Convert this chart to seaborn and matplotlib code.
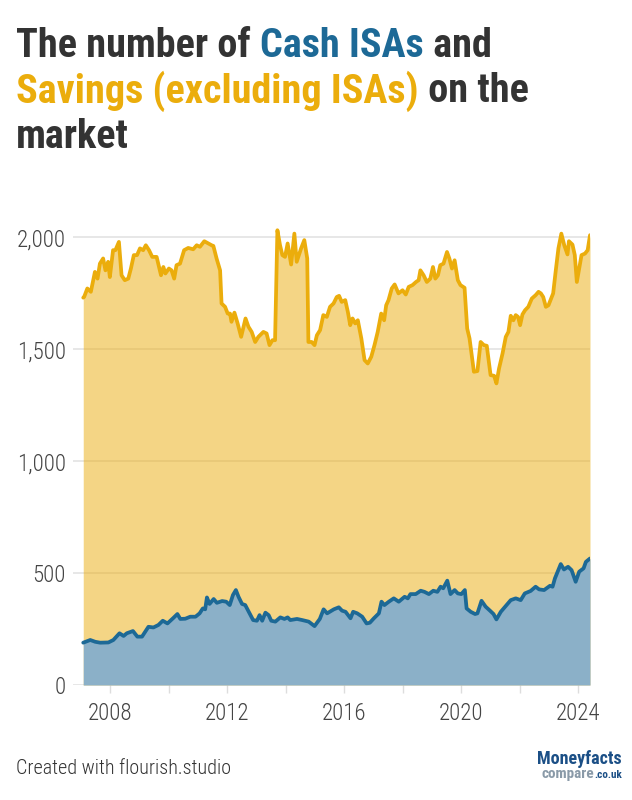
import matplotlib
matplotlib.use("Agg")
import matplotlib.pyplot as plt
from matplotlib.ticker import FuncFormatter, FixedLocator
import seaborn as sns
import pandas as pd

sns.set_theme(style="white")
plt.rcParams["font.family"] = ["Roboto Condensed", "Roboto", "DejaVu Sans"]

# Savings (excluding ISAs), decimal years
sav_year = [2007.08, 2007.11, 2007.22, 2007.34, 2007.48, 2007.57, 2007.65, 2007.76, 2007.84, 2007.93,
            2007.99, 2008.10, 2008.18, 2008.30, 2008.39, 2008.50, 2008.62, 2008.71, 2008.81, 2008.92,
            2009.02, 2009.13, 2009.22, 2009.33, 2009.44, 2009.59, 2009.74, 2009.82, 2009.89, 2010.01,
            2010.10, 2010.19, 2010.27, 2010.39, 2010.53, 2010.67, 2010.84, 2010.96, 2011.07, 2011.22,
            2011.36, 2011.47, 2011.53, 2011.64, 2011.76, 2011.81, 2011.93, 2012.02, 2012.10, 2012.15,
            2012.25, 2012.36, 2012.48, 2012.63, 2012.73, 2012.84, 2012.96, 2013.07, 2013.24, 2013.35,
            2013.45, 2013.55, 2013.64, 2013.72, 2013.81, 2013.89, 2013.98, 2014.07, 2014.19, 2014.30,
            2014.38, 2014.53, 2014.64, 2014.74, 2014.78, 2014.89, 2014.99, 2015.07, 2015.18, 2015.29,
            2015.41, 2015.52, 2015.64, 2015.75, 2015.83, 2015.92, 2016.04, 2016.13, 2016.21, 2016.29,
            2016.38, 2016.47, 2016.59, 2016.70, 2016.81, 2016.93, 2017.04, 2017.15, 2017.27, 2017.37,
            2017.44, 2017.52, 2017.63, 2017.73, 2017.86, 2018.00, 2018.11, 2018.21, 2018.34, 2018.46,
            2018.55, 2018.61, 2018.72, 2018.83, 2018.95, 2019.04, 2019.12, 2019.21, 2019.29, 2019.40,
            2019.52, 2019.60, 2019.69, 2019.78, 2019.89, 2019.98, 2020.12, 2020.21, 2020.29, 2020.44,
            2020.56, 2020.67, 2020.78, 2020.88, 2021.01, 2021.13, 2021.21, 2021.30, 2021.42, 2021.53,
            2021.62, 2021.70, 2021.79, 2021.87, 2021.95, 2022.02, 2022.10, 2022.19, 2022.30, 2022.42,
            2022.55, 2022.65, 2022.73, 2022.81, 2022.90, 2022.99, 2023.10, 2023.15, 2023.24, 2023.33,
            2023.43, 2023.53, 2023.64, 2023.69, 2023.81, 2023.89, 2023.96, 2024.04, 2024.12, 2024.24,
            2024.33, 2024.41]
sav_vals = [1730, 1733, 1771, 1756, 1845, 1815, 1882, 1905, 1852, 1890,
            1822, 1942, 1942, 1979, 1830, 1808, 1815, 1860, 1920, 1920,
            1950, 1942, 1964, 1942, 1912, 1912, 1830, 1867, 1838, 1860,
            1852, 1815, 1875, 1882, 1942, 1952, 1946, 1964, 1957, 1982,
            1972, 1964, 1961, 1905, 1852, 1704, 1689, 1659, 1659, 1622,
            1663, 1615, 1555, 1637, 1600, 1577, 1532, 1555, 1577, 1570,
            1518, 1540, 1540, 2031, 1964, 1920, 1912, 1972, 1878, 2016,
            1890, 1950, 1987, 1905, 1532, 1532, 1518, 1562, 1585, 1652,
            1644, 1689, 1704, 1733, 1738, 1711, 1719, 1666, 1607, 1637,
            1615, 1629, 1548, 1451, 1436, 1466, 1518, 1577, 1659, 1629,
            1696, 1719, 1771, 1789, 1749, 1763, 1744, 1778, 1786, 1800,
            1808, 1852, 1830, 1800, 1815, 1867, 1815, 1830, 1875, 1882,
            1934, 1905, 1860, 1897, 1808, 1786, 1774, 1592, 1548, 1399,
            1402, 1532, 1518, 1515, 1384, 1381, 1347, 1414, 1481, 1555,
            1577, 1649, 1629, 1652, 1644, 1607, 1655, 1674, 1689, 1726,
            1741, 1756, 1749, 1733, 1689, 1696, 1733, 1749, 1852, 1950,
            2016, 1964, 1923, 1982, 1967, 1920, 1800, 1860, 1920, 1927,
            1942, 2009]

# Cash ISAs
isa_year = [2007.08, 2007.32, 2007.49, 2007.66, 2007.94, 2008.11, 2008.32, 2008.46, 2008.57, 2008.78,
            2008.93, 2009.09, 2009.31, 2009.48, 2009.65, 2009.80, 2009.96, 2010.15, 2010.30, 2010.40,
            2010.57, 2010.74, 2010.92, 2011.06, 2011.17, 2011.25, 2011.31, 2011.40, 2011.54, 2011.65,
            2011.83, 2011.97, 2012.09, 2012.20, 2012.30, 2012.39, 2012.51, 2012.62, 2012.74, 2012.89,
            2013.02, 2013.11, 2013.20, 2013.31, 2013.42, 2013.51, 2013.65, 2013.82, 2013.96, 2014.07,
            2014.16, 2014.39, 2014.57, 2014.79, 2014.99, 2015.17, 2015.30, 2015.42, 2015.65, 2015.82,
            2015.93, 2016.05, 2016.22, 2016.31, 2016.45, 2016.62, 2016.77, 2016.88, 2017.02, 2017.19,
            2017.28, 2017.38, 2017.53, 2017.70, 2017.87, 2018.07, 2018.18, 2018.27, 2018.45, 2018.62,
            2018.75, 2018.90, 2019.05, 2019.19, 2019.30, 2019.39, 2019.53, 2019.64, 2019.78, 2019.89,
            2020.01, 2020.13, 2020.19, 2020.33, 2020.48, 2020.56, 2020.70, 2020.84, 2020.99, 2021.11,
            2021.21, 2021.36, 2021.53, 2021.70, 2021.87, 2022.04, 2022.18, 2022.38, 2022.55, 2022.67,
            2022.84, 2023.04, 2023.13, 2023.21, 2023.41, 2023.52, 2023.66, 2023.78, 2023.92, 2024.04,
            2024.19, 2024.27, 2024.41]
isa_vals = [189, 201, 193, 189, 190, 201, 231, 219, 231, 241,
            216, 216, 260, 257, 268, 287, 275, 298, 317, 295,
            296, 305, 305, 320, 342, 338, 391, 362, 384, 367,
            375, 372, 357, 402, 424, 394, 362, 357, 327, 290,
            287, 312, 287, 323, 312, 287, 283, 302, 295, 302,
            290, 295, 290, 283, 263, 295, 338, 320, 338, 347,
            332, 327, 298, 327, 320, 305, 275, 278, 298, 320,
            372, 357, 372, 387, 372, 394, 387, 406, 406, 421,
            416, 406, 421, 416, 439, 432, 466, 406, 424, 409,
            406, 424, 342, 327, 317, 320, 376, 350, 332, 317,
            293, 327, 353, 379, 387, 379, 409, 420, 439, 427,
            424, 443, 439, 476, 540, 516, 528, 513, 461, 506,
            521, 550, 565]

y_ticks = [0, 500, 1000, 1500, 2000]
x_major = [2008, 2012, 2016, 2020, 2024]
x_minor = [2010, 2014, 2018, 2022]

AMBER = "#ebad0c"
BLUE = "#1d6996"
BLUE_FILL = "#8bb0c8"
DARK = "#333333"

sav = pd.DataFrame({"year": sav_year, "value": sav_vals})
isa = pd.DataFrame({"year": isa_year, "value": isa_vals})

fig = plt.figure(figsize=(6.32, 8), dpi=100)
ax = fig.add_axes([73 / 632, 1 - 685 / 800, (590 - 73) / 632, (685 - 226) / 800])

ax.fill_between(sav["year"], 0, sav["value"], color=AMBER, alpha=0.5, lw=0, zorder=2)
sns.lineplot(data=sav, x="year", y="value", ax=ax, color=AMBER, lw=2.7, zorder=3)
ax.fill_between(isa["year"], 0, isa["value"], color=BLUE_FILL, lw=0, zorder=4)
sns.lineplot(data=isa, x="year", y="value", ax=ax, color=BLUE, lw=2.7, zorder=5)

ax.set_xlim(2006.73, 2024.41)
ax.set_ylim(0, 2050)
ax.set_xlabel("")
ax.set_ylabel("")
for s in ax.spines.values():
    s.set_visible(False)

ax.set_yticks(y_ticks)
ax.yaxis.set_major_formatter(FuncFormatter(lambda v, p: f"{int(v):,}"))
ax.grid(axis="y", color="#e3e3e3", lw=1.2, zorder=0)
ax.set_axisbelow(True)
ax.tick_params(axis="y", length=0, pad=5, labelsize=16.5, labelcolor="#444444")

ax.xaxis.set_major_locator(FixedLocator(x_major))
ax.xaxis.set_minor_locator(FixedLocator(x_minor))
ax.set_xticklabels([str(y) for y in x_major])
ax.tick_params(axis="x", which="both", bottom=True, length=6, width=1, color="#dddddd",
               pad=6, labelsize=16.5, labelcolor="#444444")
for lab in ax.get_xticklabels() + ax.get_yticklabels():
    lab.set_fontweight("light")

# multi-coloured title
title_lines = [
    [("The number of ", DARK), ("Cash ISAs", BLUE), (" and", DARK)],
    [("Savings (excluding ISAs)", AMBER), (" on the", DARK)],
    [("market", DARK)],
]
fig.canvas.draw()
r = fig.canvas.get_renderer()
for i, line in enumerate(title_lines):
    x = 16 / 632
    y = 1 - (57 + i * 45.5) / 800
    for txt, col in line:
        t = fig.text(x, y, txt, color=col, fontsize=29, fontweight="bold", va="baseline", ha="left")
        bb = t.get_window_extent(renderer=r)
        x = bb.x1 / fig.bbox.width

fig.text(16 / 632, 1 - 768 / 800, "Created with flourish.studio", fontsize=14.5, color=DARK,
         va="center", fontweight="light")

# logo
fig.text(622 / 632, 1 - 764 / 800, "Moneyfacts", fontsize=13, fontweight="bold", color="#1b4f86",
         ha="right", va="baseline")
t1 = fig.text(622 / 632, 1 - 778 / 800, ".co.uk", fontsize=8, fontweight="bold", color="#1b4f86",
              ha="right", va="baseline")
fig.canvas.draw()
bb1 = t1.get_window_extent(renderer=fig.canvas.get_renderer())
fig.text(bb1.x0 / fig.bbox.width, 1 - 778 / 800, "compare", fontsize=11, fontweight="bold",
         color="#8a9aa8", ha="right", va="baseline")

fig.savefig("out.png", dpi=100)
